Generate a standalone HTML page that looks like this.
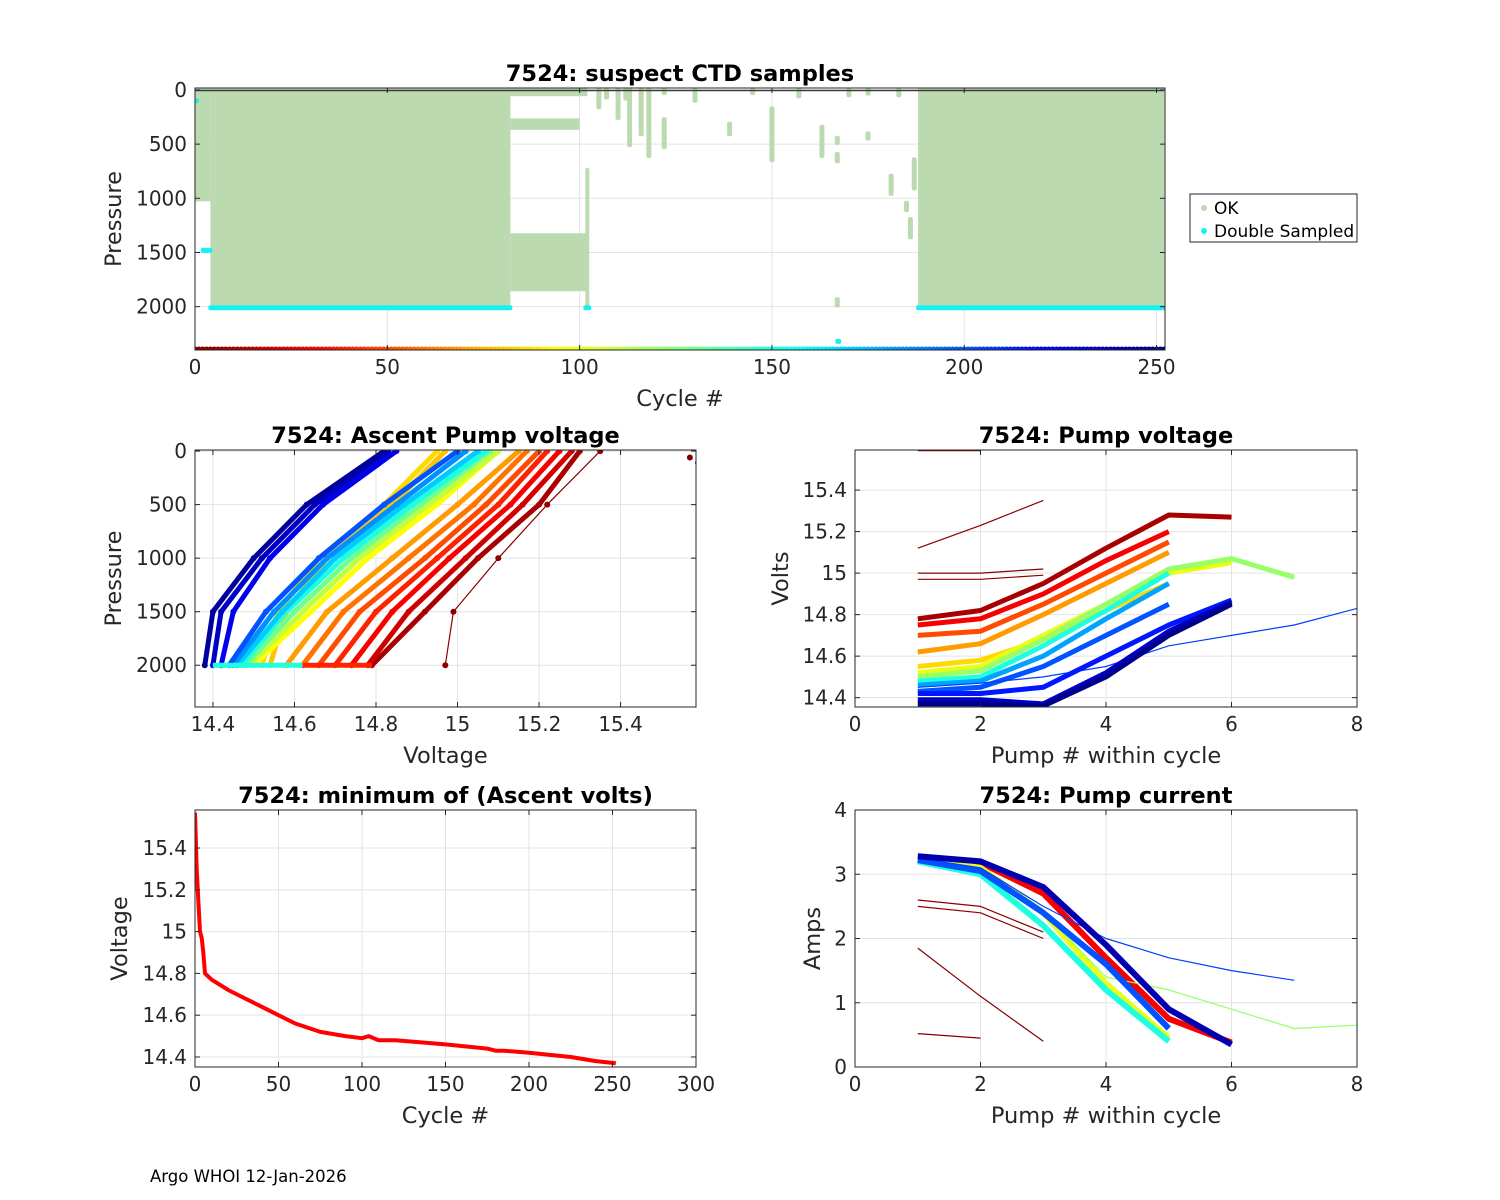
<!DOCTYPE html>
<html><head><meta charset="utf-8"><style>
html,body{margin:0;padding:0;background:#fff;}
svg{display:block;font-family:"DejaVu Sans","Liberation Sans",sans-serif;}
</style></head><body>
<svg id="chart" width="1500" height="1200" viewBox="0 0 1500 1200"></svg>
<script>
// ---------- data ----------
const okBlocks = [[0,4,0,1000],[4,82,0,2000],[82,102,0,30],[82,100,290,340],[82,102,1350,1830],[101.5,102.5,750,2000],[188,252,0,2000]];
const okSparse = [[105,0,150],[107,0,60],[110,0,250],[112,0,70],[113,0,500],[116,0,400],[118,0,600],[122,280,520],[130,0,90],[139,320,400],[150,180,640],[157,0,50],[163,350,600],[170,0,40],[183,0,40],[200,0,60],[220,0,30],[234,0,40],[242,0,30],[167,450,480],[175,410,440],[167,600,650],[167,1940,1980],[181,800,950],[185,1050,1100],[186,1200,1350],[187,650,900],[100,0,30],[122,0,20],[145,0,20],[175,0,25]];
const dblSegs = [[4,82,2010],[188,252,2010],[2,4,1480],[101.5,102.5,2010],[167,167.5,2320],[0,0.5,100]];
const minCycles = [0,1,2,3,4,5,6,10,20,30,40,50,60,75,90,100,104,110,120,150,175,180,185,200,225,240,252];
const minVolts  = [15.57,15.3,15.15,15.0,14.97,14.9,14.8,14.77,14.72,14.68,14.64,14.6,14.56,14.52,14.5,14.49,14.5,14.48,14.48,14.46,14.44,14.43,14.43,14.42,14.4,14.38,14.37];
const profPressures = [2000,1500,1000,500,0];
const profCycles = [3,10,20,30,40,50,60,70,80,85,95,110,130,150,170,185,200,225,235,245];
const profVolts = [
 [14.97,14.99,15.1,15.22,15.35],[14.79,14.92,15.05,15.2,15.3],[14.78,14.88,15.02,15.16,15.28],[14.74,14.84,14.98,15.13,15.25],
 [14.7,14.8,14.95,15.1,15.22],[14.66,14.76,14.92,15.07,15.2],[14.62,14.72,14.88,15.04,15.17],[14.58,14.68,14.84,15.0,15.15],
 [14.54,14.58,14.68,14.84,14.97],[14.52,14.56,14.66,14.82,14.95],[14.5,14.64,14.78,14.95,15.1],[14.49,14.62,14.76,14.93,15.1],
 [14.48,14.6,14.74,14.91,15.08],[14.47,14.58,14.72,14.89,15.07],[14.46,14.57,14.7,14.87,15.05],[14.45,14.55,14.68,14.85,15.02],
 [14.44,14.53,14.66,14.82,15.0],[14.42,14.45,14.54,14.67,14.85],[14.4,14.42,14.52,14.65,14.83],[14.38,14.4,14.5,14.63,14.82]];
const pvCycles = [1,2,3,3,10,30,50,70,85,100,120,150,180,200,205,215,235,250];
const pvVolts = [[15.59,15.59],[15.12,15.23,15.35],[15.0,15.0,15.02],[14.97,14.97,14.99],
 [14.78,14.82,14.95,15.12,15.28,15.27],[14.75,14.78,14.9,15.06,15.2],[14.7,14.72,14.85,15.0,15.15],[14.62,14.66,14.8,14.95,15.1],
 [14.55,14.58,14.68,14.82,14.95],[14.52,14.55,14.7,14.85,15.0,15.05],[14.5,14.53,14.68,14.85,15.02,15.07,14.98],[14.48,14.5,14.65,14.82,15.0],
 [14.46,14.48,14.6,14.78,14.95],[14.43,14.45,14.55,14.7,14.85],[14.45,14.47,14.5,14.55,14.65,14.7,14.75,14.83],
 [14.42,14.42,14.45,14.6,14.75,14.87],[14.39,14.39,14.37,14.52,14.72,14.86],[14.37,14.37,14.36,14.5,14.7,14.85]];
const pcCycles = [1,2,3,3,30,100,120,150,200,205,240];
const pcAmps = [[0.52,0.45],[1.85,1.1,0.4],[2.6,2.5,2.1],[2.5,2.4,2.0],
 [3.28,3.18,2.7,1.7,0.75,0.38],[3.25,3.1,2.4,1.3,0.45],[3.25,3.1,2.4,1.4,1.2,0.9,0.6,0.65],[3.2,3.0,2.2,1.2,0.4],
 [3.22,3.05,2.4,1.6,0.6],[3.25,3.1,2.5,2.0,1.7,1.5,1.35],[3.28,3.2,2.8,1.9,0.9,0.35]];
const topXTicks=[0,50,100,150,200,250], topYTicks=[0,500,1000,1500,2000];
const voltTicks=[14.4,14.6,14.8,15,15.2,15.4];
const pumpTicks=[0,2,4,6,8], ampTicks=[0,1,2,3,4], cycTicks=[0,50,100,150,200,250,300];
// ---------- helpers ----------
const NS='http://www.w3.org/2000/svg';
const svg=document.getElementById('chart');
function mk(tag,attrs,parent){const e=document.createElementNS(NS,tag);for(const k in attrs)e.setAttribute(k,attrs[k]);(parent||svg).appendChild(e);return e;}
function jet(c){const t=1-c/252;const cl=v=>Math.max(0,Math.min(1,v));
 const r=cl(1.5-Math.abs(4*t-3)),g=cl(1.5-Math.abs(4*t-2)),b=cl(1.5-Math.abs(4*t-1));
 return `rgb(${Math.round(r*255)},${Math.round(g*255)},${Math.round(b*255)})`;}
function fmt(v){return String(Math.round(v*100)/100);}
function axes(o){
 o.sx=v=>o.x0+(v-o.xmin)/(o.xmax-o.xmin)*(o.x1-o.x0);
 o.sy=o.rev?(v=>o.y0+(v-o.ymin)/(o.ymax-o.ymin)*(o.y1-o.y0)):(v=>o.y1-(v-o.ymin)/(o.ymax-o.ymin)*(o.y1-o.y0));
 const g=mk('g',{});
 mk('rect',{x:o.x0,y:o.y0,width:o.x1-o.x0,height:o.y1-o.y0,fill:'#fff'},g);
 const grid=mk('g',{stroke:'#e3e3e3','stroke-width':1},g);
 
 o.xt.forEach(v=>{const x=o.sx(v);mk('line',{x1:x,x2:x,y1:o.y0,y2:o.y1},grid);});
 o.yt.forEach(v=>{const y=o.sy(v);mk('line',{x1:o.x0,x2:o.x1,y1:y,y2:y},grid);});
 o.clip='c'+o.name;
 const cp=mk('clipPath',{id:o.clip},g);mk('rect',{x:o.x0,y:o.y0,width:o.x1-o.x0,height:o.y1-o.y0},cp);
 o.plot=mk('g',{'clip-path':`url(#${o.clip})`},g);
 
 o.fg=mk('g',{},g);
 mk('rect',{x:o.x0,y:o.y0,width:o.x1-o.x0,height:o.y1-o.y0,fill:'none',stroke:'#262626','stroke-width':1},o.fg);
 o.xt.forEach(v=>{const x=o.sx(v);mk('line',{x1:x,x2:x,y1:o.y1,y2:o.y1-5,stroke:'#262626'},o.fg);mk('line',{x1:x,x2:x,y1:o.y0,y2:o.y0+5,stroke:'#262626'},o.fg);
  const t=mk('text',{x:x,y:o.y1+24,'text-anchor':'middle','font-size':20,fill:'#262626'},o.fg);t.textContent=fmt(v);
  });
 o.yt.forEach(v=>{const y=o.sy(v);mk('line',{x1:o.x0,x2:o.x0+5,y1:y,y2:y,stroke:'#262626'},o.fg);mk('line',{x1:o.x1,x2:o.x1-5,y1:y,y2:y,stroke:'#262626'},o.fg);
  const t=mk('text',{x:o.x0-8,y:y+7,'text-anchor':'end','font-size':20,fill:'#262626'},o.fg);t.textContent=fmt(v);
  });
 const tt=mk('text',{x:(o.x0+o.x1)/2,y:o.y0-7,'text-anchor':'middle','font-size':22.5,'font-weight':'bold',fill:'#000'},o.fg);tt.textContent=o.title;
 
 const xl=mk('text',{x:(o.x0+o.x1)/2,y:o.y1+56,'text-anchor':'middle','font-size':22.5,fill:'#262626'},o.fg);xl.textContent=o.xl;
 
 const yx=o.ylx,yy=(o.y0+o.y1)/2;
 const yl=mk('text',{x:yx,y:yy,'text-anchor':'middle','font-size':22.5,fill:'#262626',transform:`rotate(-90 ${yx} ${yy})`},o.fg);yl.textContent=o.yl;
 
 return o;}
function line(o,xs,ys,color,w,name){const pts=[];xs.forEach((x,i)=>{if(ys[i]!=null)pts.push(o.sx(x).toFixed(1)+','+o.sy(ys[i]).toFixed(1));});
 const p=mk('polyline',{points:pts.join(' '),fill:'none',stroke:color,'stroke-width':w,'stroke-linejoin':'round'},o.plot);
 return p;}
function dot(o,x,y,color,r,name){const c=mk('circle',{cx:o.sx(x),cy:o.sy(y),r:r,fill:color},o.plot);
 }
// ---------- top panel ----------
const A=axes({name:'ctd-samples-axes',x0:195,x1:1165,y0:88,y1:350,xmin:0,xmax:252.2,ymin:-18,ymax:2400,rev:true,xt:topXTicks,yt:topYTicks,
 title:'7524: suspect CTD samples',xl:'Cycle #',yl:'Pressure',ylx:121});
okBlocks.forEach(b=>{const r=mk('rect',{x:A.sx(b[0]),y:A.sy(b[2])-3,width:A.sx(b[1])-A.sx(b[0]),height:A.sy(b[3])-A.sy(b[2])+6,fill:'#bcdab0'},A.plot);
 });
okSparse.forEach(s=>{const r=mk('rect',{x:A.sx(s[0])-2.5,y:A.sy(s[1])-3,width:5,height:A.sy(s[2])-A.sy(s[1])+6,fill:'#bcdab0',rx:2},A.plot);
 });
line(A,[0,252],[5,5],'#3a3a3a',1.5,'surface-line');
dblSegs.forEach(s=>{const r=mk('rect',{x:A.sx(s[0])-2,y:A.sy(s[2])-2.5,width:A.sx(s[1])-A.sx(s[0])+4,height:5,fill:'#19f0f0',rx:2},A.plot);
 });
for(let c=0;c<=252;c++){dot(A,c,2400-5,jet(c),3,'cycle-marker');}
const lg=mk('g',{});
mk('rect',{x:1190,y:194,width:167,height:48,fill:'#fff',stroke:'#262626'},lg);
[['OK','#bcdab0',208],['Double Sampled','#19f0f0',231]].forEach(e=>{const c=mk('circle',{cx:1204,cy:e[2],r:3,fill:e[1]},lg);
 
 const t=mk('text',{x:1214,y:e[2]+6,'font-size':17,fill:'#000'},lg);t.textContent=e[0];
 });
// ---------- ascent pump voltage ----------
const B=axes({name:'ascent-voltage-axes',x0:195,x1:696,y0:450,y1:707,xmin:14.356,xmax:15.585,ymin:-10,ymax:2390,rev:true,xt:[14.4,14.6,14.8,15,15.2,15.4],yt:topYTicks,
 title:'7524: Ascent Pump voltage',xl:'Voltage',yl:'Pressure',ylx:121});
profCycles.forEach((c,i)=>{const col=jet(c);line(B,profVolts[i],profPressures,col,c<5?1.2:5,'profile-cycle-'+c);
 profVolts[i].forEach((v,j)=>{if(v!=null)dot(B,v,profPressures[j],col,3,'profile-point');});});
line(B,[14.4,14.45,14.62],[2000,2000,2000],jet(150),5,'bottom-band');
line(B,[14.62,14.79],[2000,2000],jet(40),5,'bottom-band-red');
dot(B,15.57,60,jet(0),3,'profile-point');dot(B,15.59,110,jet(0),3,'profile-point');
// ---------- pump voltage ----------
const C=axes({name:'pump-voltage-axes',x0:855,x1:1357,y0:450,y1:707,xmin:0,xmax:8,ymin:14.355,ymax:15.593,rev:false,xt:pumpTicks,yt:voltTicks,
 title:'7524: Pump voltage',xl:'Pump # within cycle',yl:'Volts',ylx:788});
pvCycles.forEach((c,i)=>{const xs=pvVolts[i].map((v,j)=>j+1);line(C,xs,pvVolts[i],jet(c),(c<5||c===205)?1.2:5,'pump-volt-cycle-'+c);});
// ---------- min volts ----------
const D=axes({name:'min-voltage-axes',x0:195,x1:696,y0:810,y1:1067,xmin:0,xmax:300,ymin:14.352,ymax:15.582,rev:false,xt:cycTicks,yt:voltTicks,
 title:'7524: minimum of (Ascent volts)',xl:'Cycle #',yl:'Voltage',ylx:127});
line(D,minCycles,minVolts,'#ff0000',4,'min-voltage-line');
// ---------- pump current ----------
const E=axes({name:'pump-current-axes',x0:855,x1:1357,y0:810,y1:1067,xmin:0,xmax:8,ymin:0,ymax:4,rev:false,xt:pumpTicks,yt:ampTicks,
 title:'7524: Pump current',xl:'Pump # within cycle',yl:'Amps',ylx:820});
pcCycles.forEach((c,i)=>{const xs=pcAmps[i].map((v,j)=>j+1);line(E,xs,pcAmps[i],jet(c),(c<5||c===205||c===120)?1.2:6,'pump-current-cycle-'+c);});
const ft=mk('text',{x:150,y:1182,'font-size':16.5,fill:'#000'});ft.textContent='Argo WHOI 12-Jan-2026';

</script>
</body></html>
